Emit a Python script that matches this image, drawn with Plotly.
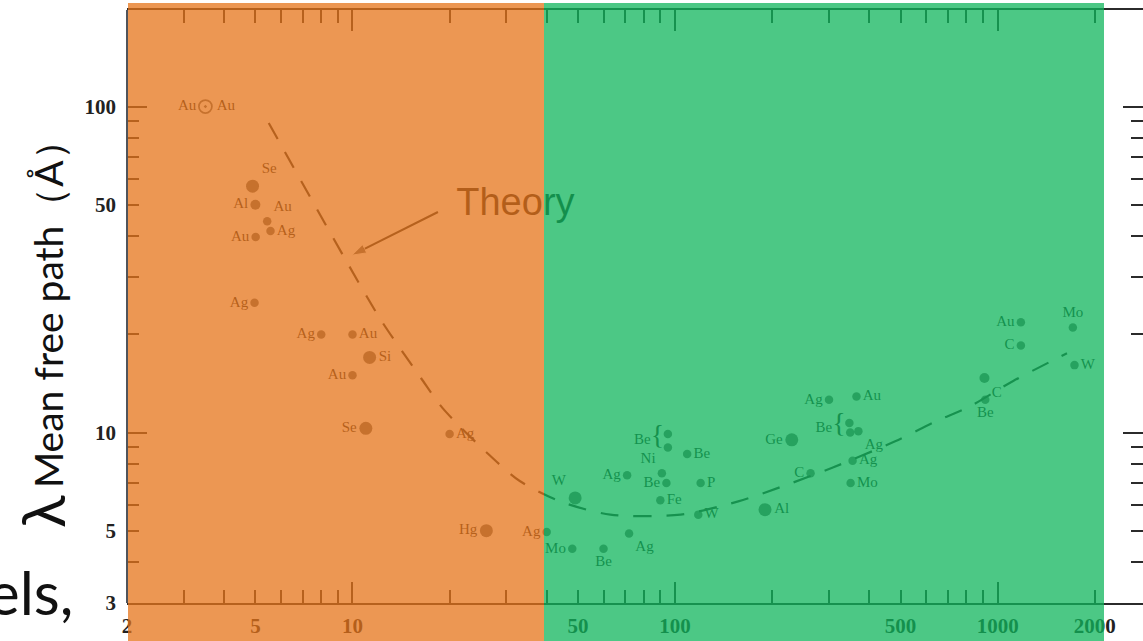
import math
import plotly.graph_objects as go

# Electron inelastic mean free path versus electron energy ("universal curve")
element = ["Au", "Se", "Al", "Au", "Ag", "Au", "Ag",
           "Ag", "Au", "Si", "Au", "Se", "Ag", "Hg", "Ag",
           "Mo", "W", "Be", "Ag", "Ag", "Ni", "Be", "Fe", "Be", "Be", "Be", "P", "W",
           "Al", "Ge", "C", "Ag", "Au", "Be", "Be", "Ag", "Ag", "Mo",
           "C", "Be", "Au", "C", "Mo", "W"]
energy_eV = [3.5, 4.9, 5.0, 5.44, 5.57, 5.01, 4.97,
             8.0, 10.0, 11.3, 10.0, 11.0, 20.0, 26.0, 40.0,
             48.0, 49.0, 60.0, 72.0, 71.0, 91.0, 94.0, 90.0, 95.0, 95.0, 109.0, 120.0, 118.0,
             190.0, 230.0, 263.0, 300.0, 365.0, 347.0, 349.0, 370.0, 355.0, 350.0,
             910.0, 915.0, 1180.0, 1180.0, 1710.0, 1730.0]
mfp_A = [100.0, 57.0, 50.0, 44.5, 41.5, 39.8, 25.0,
         20.0, 20.0, 17.0, 15.0, 10.3, 9.9, 5.0, 4.95,
         4.4, 6.3, 4.4, 4.9, 7.4, 7.5, 7.0, 6.2, 9.9, 9.0, 8.6, 7.0, 5.6,
         5.8, 9.5, 7.5, 12.6, 12.9, 10.7, 10.0, 10.1, 8.2, 7.0,
         14.7, 12.6, 21.8, 18.5, 21.0, 16.1]

# Theoretical curve (dashed)
theory_E = [5.5, 9.5, 12.3, 16.3, 19, 26, 33, 44, 63, 104, 157, 212, 307, 481, 640, 816, 1117, 1640]
theory_mfp = [89, 34, 22, 14.7, 11.9, 8.7, 7.1, 6.15, 5.6, 5.6, 6.15, 6.8, 7.8, 9.4, 10.8, 12.0, 14.4, 17.5]

# Callout pointing at the theory curve
callout_text = "Theory"
callout_E = [18.4, 9.96]
callout_mfp = [47.5, 35.0]

# Tick labels
x_tick_labels = ["2", "5", "10", "50", "100", "500", "1000", "2000"]
y_tick_labels = ["3", "5", "10", "50", "100"]

# Points sharing one bracketed "Be" label
brace_groups = [[23, 24], [33, 34]]

# ---- styling -------------------------------------------------------------
big = {1, 9, 11, 13, 16, 28, 29}
medium = {38, 2}
sizes = []
for i in range(len(element)):
    sizes.append(13 if i in big else (10 if i in medium else 8.5))
sizes[0] = 13
symbols = ["circle"] * len(element)
symbols[0] = "circle-open-dot"
line_w = [0] * len(element)
line_w[0] = 1.8

label_pos = ["middle left", "top right", "middle left", "top right", "middle right", "middle left", "middle left",
             "middle left", "middle right", "middle right", "middle left", "middle left", "middle right", "middle left", "middle left",
             "middle left", "top left", "bottom center", "bottom right", "middle left", "top left", "middle left", "middle right",
             "middle left", "middle left", "middle right", "middle right", "middle right",
             "middle right", "middle left", "middle left", "middle left", "middle right", "middle left", "middle left",
             "bottom right", "middle right", "middle right",
             "bottom right", "bottom center", "middle left", "middle left", "top center", "middle right"]
grouped = {i for g in brace_groups for i in g}
labels = ["" if i in grouped else el for i, el in enumerate(element)]

INK = "#2b2b2b"
LABEL_INK = "#262626"
SERIF = "Liberation Serif, Times New Roman, serif"
SANS = "Lato, Carlito, sans-serif"

# plot-area geometry (pixels)
FIG_W, FIG_H = 1143, 641
L, R_EDGE, T, B = 127, 1143, 10, 603
PW, PH = R_EDGE - L, B - T
PX_PER_DECADE_X = 322.6
PX_PER_DECADE_Y = 326.0
x_range = [math.log10(2), math.log10(2) + PW / PX_PER_DECADE_X]
y_range = [math.log10(3), math.log10(3) + PH / PX_PER_DECADE_Y]


def px_x(px):
    return (px - L) / PW


def px_y(py):
    return (B - py) / PH


def in_range(v, rng):
    return rng[0] - 1e-9 <= math.log10(v) <= rng[1] + 1e-9


x_minor = [d * 10 ** k for k in range(0, 4) for d in range(1, 10) if in_range(d * 10 ** k, x_range)]
y_minor = [d * 10 ** k for k in range(0, 3) for d in range(1, 10) if in_range(d * 10 ** k, y_range)]
x_text = [str(int(v)) if str(int(v)) in x_tick_labels else "" for v in x_minor]
y_text = [str(int(v)) if str(int(v)) in y_tick_labels else "" for v in y_minor]

fig = go.Figure()

fig.add_trace(go.Scatter(
    x=theory_E, y=theory_mfp, mode="lines",
    line=dict(color=INK, width=2.2, dash="18px,15px", shape="spline", smoothing=0.8),
    hoverinfo="skip"))

fig.add_trace(go.Scatter(
    x=energy_eV, y=mfp_A, mode="markers+text",
    text=labels, textposition=label_pos,
    textfont=dict(family=SERIF, size=15, color=LABEL_INK),
    marker=dict(size=sizes, color=INK, symbol=symbols, line=dict(width=line_w, color=INK)),
    cliponaxis=False))

# second label on the first (circled) point
fig.add_trace(go.Scatter(
    x=[energy_eV[0]], y=[mfp_A[0]], mode="text",
    text=["\u00a0\u00a0\u00a0" + element[0]], textposition="middle right",
    textfont=dict(family=SERIF, size=15, color=LABEL_INK)))

# bracketed labels
for g in brace_groups:
    gx = min(energy_eV[i] for i in g)
    gy = math.exp(sum(math.log(mfp_A[i]) for i in g) / len(g))
    fig.add_trace(go.Scatter(
        x=[gx], y=[gy], mode="text",
        text=[element[g[0]] + "<span style='font-size:28px'>{</span>\u00a0"],
        textposition="middle left",
        textfont=dict(family=SERIF, size=15, color=LABEL_INK)))

# "Theory" callout (arrow + text)
fig.add_trace(go.Scatter(
    x=callout_E, y=callout_mfp, mode="lines+markers",
    line=dict(color=INK, width=2.2),
    marker=dict(symbol="arrow", size=[0, 15], angleref="previous", color=INK),
    xaxis="x2", yaxis="y2"))
fig.add_trace(go.Scatter(
    x=[callout_E[0] * 1.14], y=[callout_mfp[0] * 1.05], mode="text",
    text=[callout_text], textposition="middle right",
    textfont=dict(family="Liberation Sans, Arial, sans-serif", size=38, color="#1e1e1e"),
    xaxis="x2", yaxis="y2"))

tickfont = dict(family=SERIF, size=21, color="#222222", weight="bold")

fig.update_layout(
    width=FIG_W, height=FIG_H,
    margin=dict(l=L, r=FIG_W - R_EDGE, t=T, b=FIG_H - B, autoexpand=False),
    paper_bgcolor="white", plot_bgcolor="white", showlegend=False,
    xaxis=dict(type="log", range=x_range, tickmode="array", tickvals=x_minor, ticktext=x_text,
               ticks="inside", ticklen=13, tickwidth=2, tickcolor=INK,
               showline=True, linewidth=2, linecolor=INK, mirror="allticks",
               showgrid=False, zeroline=False, tickfont=tickfont, ticklabelstandoff=3),
    xaxis2=dict(type="log", range=x_range, overlaying="x", anchor="y", side="bottom",
                tickmode="array", tickvals=[10, 100, 1000], ticks="inside", ticklen=21, tickwidth=2,
                tickcolor=INK, showticklabels=False, showline=False, mirror="allticks", showgrid=False),
    yaxis=dict(type="log", range=y_range, tickmode="array", tickvals=y_minor, ticktext=y_text,
               ticks="inside", ticklen=12, tickwidth=2, tickcolor=INK,
               showline=False, mirror="allticks",
               showgrid=False, zeroline=False, tickfont=tickfont, ticklabelstandoff=10),
    yaxis2=dict(type="log", range=y_range, overlaying="y", anchor="x", side="left",
                tickmode="array", tickvals=[10, 100], ticks="inside", ticklen=20, tickwidth=2,
                tickcolor=INK, showticklabels=False, showline=False, mirror="allticks", showgrid=False),
    shapes=[
        dict(type="line", xref="paper", yref="paper", x0=0, x1=0, y0=0, y1=1,
             line=dict(color="#50545a", width=2), layer="above"),
        dict(type="rect", xref="paper", yref="paper", x0=px_x(128), x1=px_x(544),
             y0=px_y(645), y1=px_y(3), fillcolor="rgb(229,116,25)", opacity=0.75,
             line=dict(width=0), layer="above"),
        dict(type="rect", xref="paper", yref="paper", x0=px_x(544), x1=px_x(1104),
             y0=px_y(645), y1=px_y(3), fillcolor="rgb(16,181,92)", opacity=0.75,
             line=dict(width=0), layer="above"),
    ],
    annotations=[
        dict(text="Mean free path（Å）", textangle=-90, xref="paper", yref="paper",
             x=px_x(48), y=px_y(305), xanchor="center", yanchor="middle", showarrow=False,
             font=dict(family=SANS, size=39, color="#111111")),
        dict(text="λ", textangle=-90, xref="paper", yref="paper",
             x=px_x(42), y=px_y(512), xanchor="center", yanchor="middle", showarrow=False,
             font=dict(family=SANS, size=60, color="#111111")),
        dict(text="els,", xref="paper", yref="paper",
             x=px_x(75), y=px_y(592), xanchor="right", yanchor="middle", showarrow=False,
             font=dict(family=SANS, size=60, color="#111111")),
    ],
)

fig.write_html("out.html")
